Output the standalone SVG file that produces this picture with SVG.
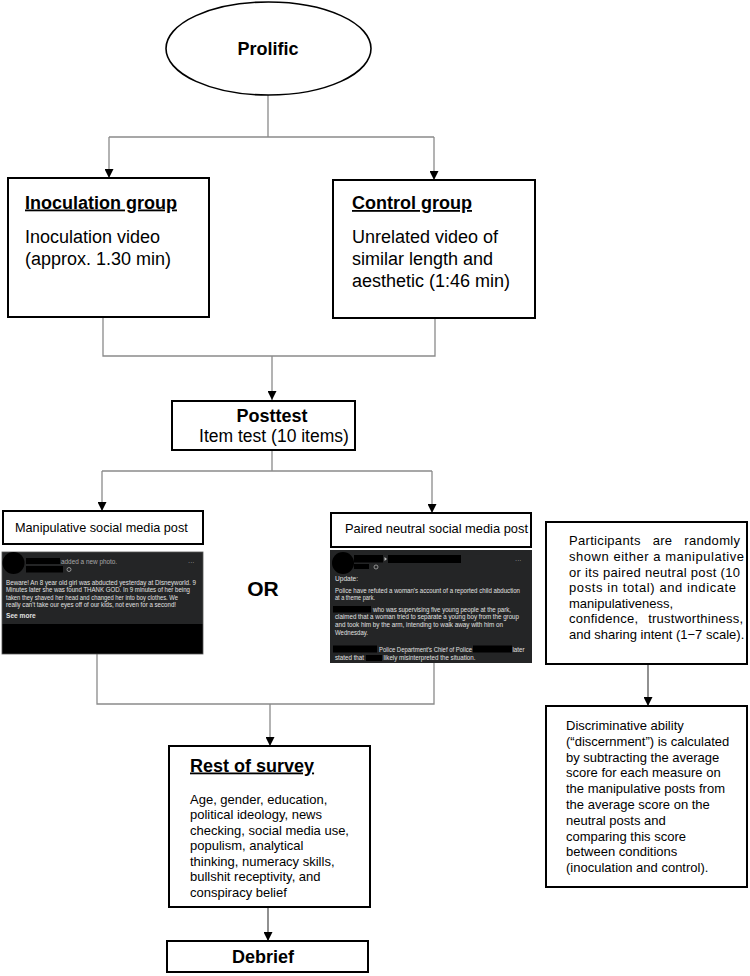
<svg xmlns="http://www.w3.org/2000/svg" width="750" height="976" viewBox="0 0 750 976">
<defs>
<style>
text{font-family:"Liberation Sans",Arial,sans-serif;fill:#000}
.box{fill:#fff;stroke:#000;stroke-width:2}
.conn{fill:none;stroke:#8a8a8a;stroke-width:1.3}
.connd{fill:none;stroke:#555;stroke-width:1.3}
.hb{font-size:18px;font-weight:bold}
.hu{font-size:18px;font-weight:bold;text-decoration:underline}
.b18{font-size:18px}
.b13{font-size:13px}
.lbl{font-size:12.7px}
.post{fill:#242526}
.pt{font-size:6.6px;fill:#e0e0e0}
.ptg{font-size:6.4px;fill:#a8a8a8}
.red{fill:#000}
</style>
<marker id="arr" viewBox="0 0 10 10" refX="10" refY="5" markerWidth="9" markerHeight="9" orient="auto" markerUnits="userSpaceOnUse">
<path d="M0,0 L10,5 L0,10 z" fill="#000"/>
</marker>
</defs>
<rect width="750" height="976" fill="#fff"/>

<g id="connectors">
<path class="conn" d="M268,95 V137 M109,137 H434"/>
<path class="conn" d="M109,137 V178" marker-end="url(#arr)"/>
<path class="conn" d="M434,137 V180" marker-end="url(#arr)"/>
<path class="conn" d="M103,317 V356 H435 V318"/>
<path class="conn" d="M272,356 V400" marker-end="url(#arr)"/>
<path class="conn" d="M272,450 V471 M102,471 H432"/>
<path class="conn" d="M102,471 V511" marker-end="url(#arr)"/>
<path class="conn" d="M432,471 V513" marker-end="url(#arr)"/>
<path class="conn" d="M97,654 V704 H434 V663"/>
<path class="conn" d="M270,704 V746" marker-end="url(#arr)"/>
<path class="connd" d="M268,907 V941" marker-end="url(#arr)"/>
<path class="connd" d="M648,664 V706" marker-end="url(#arr)"/>
</g>

<g id="prolific">
<ellipse cx="268.5" cy="48.5" rx="102.5" ry="46.5" fill="#fff" stroke="#000" stroke-width="1.6"/>
<text class="hb" x="268" y="55" text-anchor="middle">Prolific</text>
</g>

<g id="inoculation">
<rect class="box" x="8" y="178" width="201" height="139"/>
<text class="hu" x="25" y="208.5">Inoculation group</text>
<text class="b18" x="25" y="243">Inoculation video</text>
<text class="b18" x="25" y="265">(approx. 1.30 min)</text>
</g>

<g id="control">
<rect class="box" x="333" y="180" width="202" height="138"/>
<text class="hu" x="352" y="209">Control group</text>
<text class="b18" x="352" y="243">Unrelated video of</text>
<text class="b18" x="352" y="265">similar length and</text>
<text class="b18" x="352" y="287">aesthetic (1:46 min)</text>
</g>

<g id="posttest">
<rect class="box" x="172" y="401" width="183" height="49"/>
<text class="hb" x="272" y="422" text-anchor="middle">Posttest</text>
<text class="b18" x="274" y="442" text-anchor="middle" style="font-size:17.5px">Item test (10 items)</text>
</g>

<g id="manipulative">
<rect class="box" x="3" y="511" width="200" height="33"/>
<text class="lbl" x="15" y="532">Manipulative social media post</text>
</g>

<g id="paired">
<rect class="box" x="331" y="513" width="200" height="34"/>
<text class="lbl" x="345" y="533" textLength="183" lengthAdjust="spacingAndGlyphs">Paired neutral social media post</text>
</g>

<g id="manipulative-post">
<rect x="2" y="552" width="201" height="72" class="post"/>
<rect x="2" y="624" width="201" height="30" fill="#000"/>
<rect x="2" y="552" width="201" height="102" fill="none" stroke="#555" stroke-width="0.8"/>
<circle cx="13.5" cy="563" r="11" class="red"/>
<rect x="26" y="558" width="34" height="6" class="red"/>
<text class="ptg" x="61" y="563.5">added a new photo.</text>
<rect x="26" y="566" width="37" height="6.5" class="red"/>
<circle cx="69" cy="569.5" r="2" fill="none" stroke="#aaa" stroke-width="0.8"/>
<text class="ptg" x="188" y="565">···</text>
<text class="pt" x="6" y="585" textLength="190" lengthAdjust="spacingAndGlyphs">Beware! An 8 year old girl was abducted yesterday at Disneyworld. 9</text>
<text class="pt" x="6" y="592.3" textLength="184" lengthAdjust="spacingAndGlyphs">Minutes later she was found THANK GOD. In 9 minutes of her being</text>
<text class="pt" x="6" y="599.6" textLength="172" lengthAdjust="spacingAndGlyphs">taken they shaved her head and changed her into boy clothes. We</text>
<text class="pt" x="6" y="606.8" textLength="170" lengthAdjust="spacingAndGlyphs">really can't take our eyes off of our kids, not even for a second!</text>
<text class="pt" x="6" y="617.6" font-weight="bold">See more</text>
</g>

<g id="paired-post">
<rect x="330" y="550" width="202" height="113" class="post"/>
<circle cx="343" cy="563" r="11" class="red"/>
<rect x="354" y="555" width="29" height="7.5" class="red"/>
<path d="M384.5,557 L387,559 L384.5,561 z" fill="#bbb"/>
<rect x="388" y="555" width="73" height="8" class="red"/>
<rect x="354" y="564" width="15" height="5" class="red"/>
<circle cx="376" cy="567" r="2" fill="none" stroke="#aaa" stroke-width="0.8"/>
<text class="ptg" x="515" y="563">···</text>
<text class="pt" x="335" y="580.5" fill="#ccc">Update:</text>
<text class="pt" x="335" y="592.5" textLength="185" lengthAdjust="spacingAndGlyphs">Police have refuted a woman's account of a reported child abduction</text>
<text class="pt" x="335" y="599.5" textLength="40" lengthAdjust="spacingAndGlyphs">at a theme park.</text>
<rect x="333" y="606" width="38" height="6.5" class="red"/>
<text class="pt" x="373" y="611.5" textLength="138" lengthAdjust="spacingAndGlyphs">who was supervising five young people at the park,</text>
<text class="pt" x="335" y="619.2" textLength="184" lengthAdjust="spacingAndGlyphs">claimed that a woman tried to separate a young boy from the group</text>
<text class="pt" x="335" y="626.8" textLength="168" lengthAdjust="spacingAndGlyphs">and took him by the arm, intending to walk away with him on</text>
<text class="pt" x="335" y="634.8" textLength="33" lengthAdjust="spacingAndGlyphs">Wednesday.</text>
<rect x="333" y="645.5" width="44" height="7" class="red"/>
<text class="pt" x="379" y="651.8" textLength="93" lengthAdjust="spacingAndGlyphs">Police Department's Chief of Police</text>
<rect x="473" y="645.5" width="39" height="7" class="red"/>
<text class="pt" x="512.5" y="651.8" textLength="12" lengthAdjust="spacingAndGlyphs">later</text>
<text class="pt" x="335" y="660" textLength="29" lengthAdjust="spacingAndGlyphs">stated that</text>
<rect x="366" y="655" width="16" height="6" class="red"/>
<text class="pt" x="383.5" y="660" textLength="92" lengthAdjust="spacingAndGlyphs">likely misinterpreted the situation.</text>
</g>

<g id="or">
<text x="263" y="596" text-anchor="middle" style="font-size:21px;font-weight:bold">OR</text>
</g>

<g id="participants">
<rect class="box" x="546" y="522" width="201" height="142"/>
<text class="b13" x="569" y="545" textLength="171" lengthAdjust="spacing" word-spacing="8">Participants are randomly</text>
<text class="b13" x="569" y="561" textLength="175" lengthAdjust="spacing">shown either a manipulative</text>
<text class="b13" x="569" y="576.5" textLength="171" lengthAdjust="spacing">or its paired neutral post (10</text>
<text class="b13" x="569" y="592" textLength="167" lengthAdjust="spacing">posts in total) and indicate</text>
<text class="b13" x="569" y="607.5">manipulativeness,</text>
<text class="b13" x="569" y="623" textLength="174" lengthAdjust="spacing" word-spacing="6">confidence, trustworthiness,</text>
<text class="b13" x="569" y="638.5">and sharing intent (1−7 scale).</text>
</g>

<g id="discernment">
<rect class="box" x="546" y="706" width="201" height="181"/>
<text class="b13" x="566" y="729.5">Discriminative ability</text>
<text class="b13" x="566" y="745.5">(“discernment”) is calculated</text>
<text class="b13" x="566" y="761.5">by subtracting the average</text>
<text class="b13" x="566" y="777">score for each measure on</text>
<text class="b13" x="566" y="793">the manipulative posts from</text>
<text class="b13" x="566" y="809">the average score on the</text>
<text class="b13" x="566" y="825">neutral posts and</text>
<text class="b13" x="566" y="840.5">comparing this score</text>
<text class="b13" x="566" y="856">between conditions</text>
<text class="b13" x="566" y="872">(inoculation and control).</text>
</g>

<g id="rest-of-survey">
<rect class="box" x="169" y="746" width="201" height="161"/>
<text class="hu" x="190" y="771.5">Rest of survey</text>
<text class="b13" x="190" y="803.5">Age, gender, education,</text>
<text class="b13" x="190" y="819">political ideology, news</text>
<text class="b13" x="190" y="834.5">checking, social media use,</text>
<text class="b13" x="190" y="850">populism, analytical</text>
<text class="b13" x="190" y="865.5">thinking, numeracy skills,</text>
<text class="b13" x="190" y="881">bullshit receptivity, and</text>
<text class="b13" x="190" y="896.5">conspiracy belief</text>
</g>

<g id="debrief">
<rect class="box" x="167" y="941" width="201" height="31"/>
<text class="hb" x="263" y="962.5" text-anchor="middle">Debrief</text>
</g>
</svg>
